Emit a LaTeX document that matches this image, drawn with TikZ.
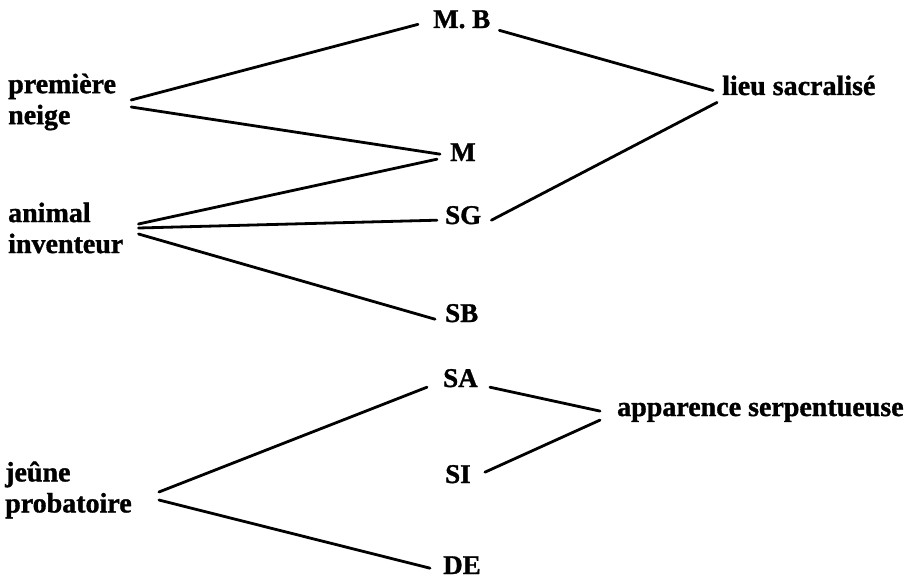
\documentclass[tikz,border=0pt]{standalone}
\usepackage{fontspec}
\setmainfont{Liberation Serif}[BoldFeatures={FakeBold=1.2}]
\usepackage{tikz}

\tikzset{
  mot/.style={font=\bfseries\fontsize{28}{31}\selectfont, inner sep=0pt, align=left},
  sigle/.style={font=\bfseries\fontsize{27}{30}\selectfont, inner sep=0pt, anchor=base west},
  trait/.style={line width=2.8pt, line cap=round}
}

\begin{document}
\begin{tikzpicture}[x=1pt, y=-1pt] % pixel units, y downwards
        \fill[white] (0,0) rectangle (920,580);
        \useasboundingbox (0,0) rectangle (920,580);

        % Left column
        \node[mot, anchor=west] (pn) at (8,102) {première\\neige};
        \node[mot, anchor=west] (ai) at (8,228) {animal\\inventeur};
        \node[mot, anchor=west] (jp) at (5,490) {jeûne\\probatoire};

        % Middle column
        \node[sigle] (mb) at (433,28) {M. B};
        \node[sigle] (m) at (450,161) {M};
        \node[sigle] (sg) at (445,224) {SG};
        \node[sigle] (sb) at (445,322) {SB};
        \node[sigle] (sa) at (443,387) {SA};
        \node[sigle] (si) at (445,483) {SI};
        \node[sigle] (de) at (443,574) {DE};

        % Right column
        \node[mot, anchor=base west] (ls) at (722,95) {lieu sacralisé};
        \node[mot, anchor=base west] (ap) at (617,416) {apparence serpentueuse};

        % Links
        \draw[trait] ([xshift=15pt,yshift=2pt]pn.east) -- ([xshift=-15pt,yshift=-5pt]mb.west);
        \draw[trait] ([xshift=15pt,yshift=-5pt]pn.east) -- ([xshift=-10pt,yshift=-2pt]m.west);
        \draw[trait] ([xshift=15pt,yshift=4pt]ai.east) -- ([xshift=-13pt,yshift=-7pt]m.west);
        \draw[trait] ([xshift=15pt]ai.east) -- ([xshift=-8pt,yshift=-5pt]sg.west);
        \draw[trait] ([xshift=15pt,yshift=-6pt]ai.east) -- ([xshift=-10pt,yshift=-6pt]sb.west);
        \draw[trait] ([xshift=27pt,yshift=-2pt]jp.east) -- ([xshift=-16pt,yshift=-9pt]sa.west);
        \draw[trait] ([xshift=27pt,yshift=-10pt]jp.east) -- ([xshift=-13pt,yshift=-3pt]de.west);

        \draw[trait] ([xshift=9pt,yshift=-11pt]mb.east) -- ([xshift=-9pt,yshift=-5pt]ls.west);
        \draw[trait] ([xshift=10pt,yshift=-5pt]sg.east) -- ([xshift=-5pt,yshift=-17pt]ls.west);
        \draw[trait] ([xshift=12pt,yshift=-9pt]sa.east) -- ([xshift=-17pt]ap.west);
        \draw[trait] ([xshift=14pt,yshift=2pt]si.east) -- ([xshift=-17pt,yshift=-9pt]ap.west);
\end{tikzpicture}
\end{document}
